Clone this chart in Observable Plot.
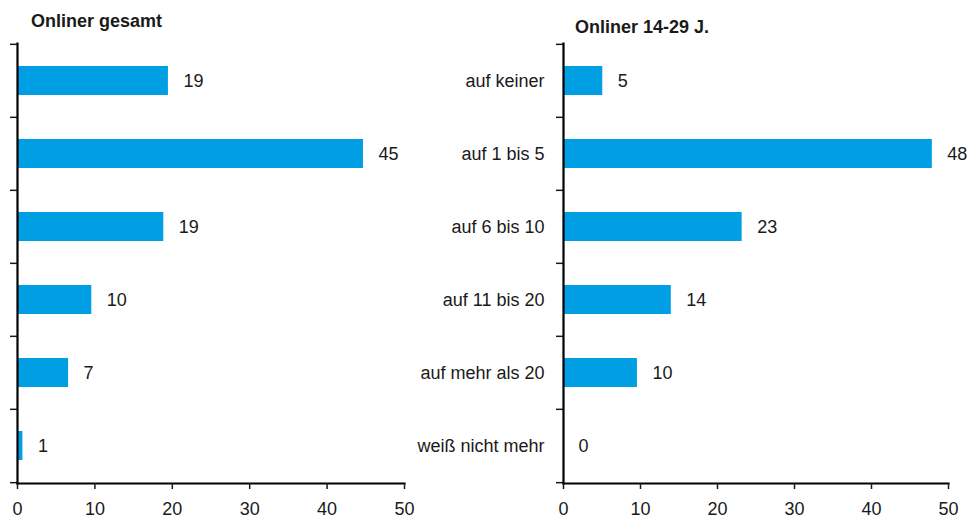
<!DOCTYPE html>
<html>
<head>
<meta charset="utf-8">
<script src="https://cdn.jsdelivr.net/npm/d3@7"></script>
<script src="https://cdn.jsdelivr.net/npm/@observablehq/plot@0.6"></script>
<style>
  html, body { margin: 0; padding: 0; background: #fff; }
  #wrap { position: relative; width: 969px; height: 521px; font-family: "Liberation Sans", Arial, sans-serif; color: #1a1a1a; }
  .panel { position: absolute; top: 0; }
  .title { position: absolute; font-weight: bold; font-size: 18px; line-height: 18px; white-space: nowrap; }
</style>
</head>
<body>
<div id="wrap">
  <div class="title" style="left:31px; top:12px;">Onliner gesamt</div>
  <div class="title" style="left:575px; top:18px;">Onliner 14-29 J.</div>
  <div class="panel" id="left" style="left:0px;"></div>
  <div class="panel" id="right" style="left:420px;"></div>
</div>
<script>
const categories = ["auf keiner", "auf 1 bis 5", "auf 6 bis 10", "auf 11 bis 20", "auf mehr als 20", "weiß nicht mehr"];
const gesamtValues = [19.5, 44.7, 18.9, 9.6, 6.6, 0.7];
const gesamtLabels = ["19", "45", "19", "10", "7", "1"];
const jungValues = [5.1, 47.9, 23.2, 14.0, 9.6, 0];
const jungLabels = ["5", "48", "23", "14", "10", "0"];
const xTicks = [0, 10, 20, 30, 40, 50];

const barColor = "#009FE3";
const textColor = "#1a1a1a";
const fontFamily = '"Liberation Sans", Arial, sans-serif';
const H = 521, marginTop = 43, marginBottom = 38;
const step = (H - marginTop - marginBottom) / categories.length;

function panel({values, labels, width, marginLeft, marginRight, showLabels}) {
  const data = categories.map((c, i) => ({cat: c, v: values[i], label: labels[i]}));
  return Plot.plot({
    width, height: H,
    marginTop, marginBottom, marginLeft, marginRight,
    style: {fontFamily, fontSize: "18px", color: textColor, background: "transparent", overflow: "visible"},
    x: {domain: [0, 50]},
    y: {domain: categories, paddingInner: 0.6, paddingOuter: 0.3},
    marks: [
      Plot.barX(data, {x: "v", y: "cat", fill: barColor}),
      Plot.text(data, {x: "v", y: "cat", text: "label", textAnchor: "start", dx: 15, fontSize: 18, fill: textColor}),
      // band-boundary ticks on the y axis
      Plot.ruleY(categories, {y: d => d, x1: 0, x2: 0, insetLeft: -7, dy: -step / 2, stroke: textColor, strokeWidth: 1.5}),
      Plot.ruleY(categories.slice(-1), {y: d => d, x1: 0, x2: 0, insetLeft: -7, dy: step / 2, stroke: textColor, strokeWidth: 1.5}),
      Plot.frame({anchor: "left", stroke: "#000", strokeWidth: 2.2}),
      Plot.frame({anchor: "bottom", stroke: "#000", strokeWidth: 2.2}),
      Plot.axisX({ticks: xTicks, tickSize: 6, tickPadding: 13, fontSize: 18, strokeWidth: 1.5, label: null, tickFormat: d => String(d)}),
      showLabels
        ? Plot.axisY({tickSize: 0, tickPadding: 19, fontSize: 18, label: null})
        : Plot.axisY({ticks: [], label: null})
    ]
  });
}

document.getElementById("left").appendChild(panel({values: gesamtValues, labels: gesamtLabels, width: 420, marginLeft: 17, marginRight: 16, showLabels: false}));
document.getElementById("right").appendChild(panel({values: jungValues, labels: jungLabels, width: 549, marginLeft: 143, marginRight: 21, showLabels: true}));
</script>
</body>
</html>
